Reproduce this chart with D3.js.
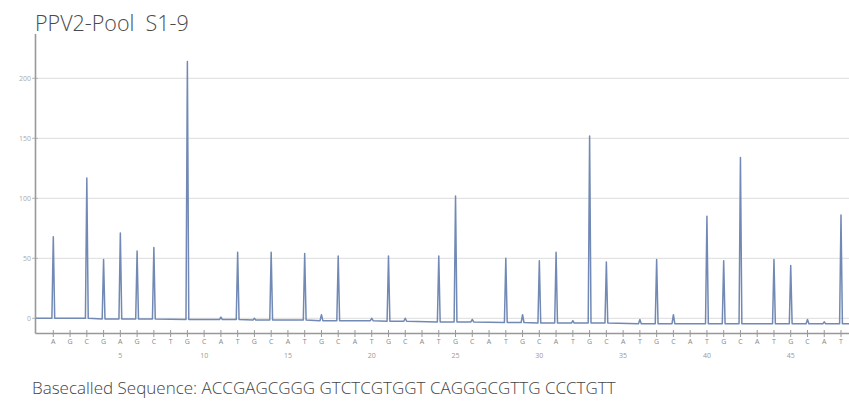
<!DOCTYPE html>
<html>
<head>
<meta charset="utf-8">
<script src="https://cdn.jsdelivr.net/npm/d3@7"></script>
<style>
  body { margin: 0; background: #fff; }
  svg { display: block; font-family: "Open Sans", sans-serif; }
</style>
</head>
<body>
<script>
const width = 849;
const height = 417;

// dispensation order and peak heights (null = no peak)
const dispensations = ["A", "G", "C", "G", "A", "G", "C", "T", "G", "C", "A", "T",
  "G", "C", "A", "T", "G", "C", "A", "T", "G", "C", "A", "T",
  "G", "C", "A", "T", "G", "C", "A", "T", "G", "C", "A", "T",
  "G", "C", "A", "T", "G", "C", "A", "T", "G", "C", "A", "T"];
const peaks = [68, null, 117, 49, 71, 56, 59, null, 214, null, 1, 55,
  0, 55, null, 54, 3, 52, null, 0, 52, 0, null, 52,
  102, -1, null, 50, 3, 48, 55, -2, 152, 47, null, -1,
  49, 3, null, 85, 48, 134, null, 49, 44, -1, -3, 86];
const baseline = [0, 0, 0, -0.5, -0.5, -0.5, -0.5, -1, -1, -1, -1, -1,
  -1.5, -1.5, -1.5, -1.5, -2, -2, -2, -2, -2.5, -2.5, -2.5, -3,
  -3, -3, -3.5, -3.5, -3.5, -4, -4, -4, -4, -4, -4, -4.5,
  -4.5, -4.5, -4.5, -4.5, -4.5, -4.5, -4.5, -4.5, -4.5, -4.5, -4.5, -4.5];
const yTicks = [0, 50, 100, 150, 200];
const xNumbers = [5, 10, 15, 20, 25, 30, 35, 40, 45];
const title = "PPV2-Pool  S1-9";
const sequence = "Basecalled Sequence: ACCGAGCGGG GTCTCGTGGT CAGGGCGTTG CCCTGTT";

const x = d3.scaleLinear().domain([1, 48]).range([53.3, 841]);
const y = d3.scaleLinear().domain([0, 200]).range([318.3, 78.3]);

const svg = d3.select("body").append("svg")
  .attr("width", width)
  .attr("height", height);

// gridlines
svg.append("g")
  .selectAll("line")
  .data(yTicks)
  .join("line")
  .attr("x1", 36)
  .attr("x2", width)
  .attr("y1", (d) => y(d))
  .attr("y2", (d) => y(d))
  .attr("stroke", "#e3e3e3")
  .attr("stroke-width", 1.2);

// y tick marks and labels
svg.append("g")
  .selectAll("line")
  .data(yTicks)
  .join("line")
  .attr("x1", 32)
  .attr("x2", 38)
  .attr("y1", (d) => y(d))
  .attr("y2", (d) => y(d))
  .attr("stroke", "#bbb");

svg.append("g")
  .selectAll("text")
  .data(yTicks)
  .join("text")
  .attr("x", 31)
  .attr("y", (d) => y(d) + 2.5)
  .attr("text-anchor", "end")
  .attr("font-size", 7)
  .attr("fill", "#aaa")
  .text((d) => d);

// trace: baseline with narrow spikes where there is signal
const pts = [[36, y(0)]];
peaks.forEach((p, i) => {
  const cx = x(i + 1);
  const b = baseline[i];
  if (p === null) return;
  pts.push([cx - 1.4, y(b)]);
  pts.push([cx, y(p)]);
  pts.push([cx + 1.4, y(b)]);
});
pts.push([width, y(baseline[baseline.length - 1])]);

svg.append("path")
  .attr("d", d3.line()(pts))
  .attr("fill", "none")
  .attr("stroke", "#7189b4")
  .attr("stroke-width", 1.5)
  .attr("stroke-linejoin", "round");

// axes
svg.append("line")
  .attr("x1", 35.5).attr("x2", 35.5)
  .attr("y1", 34).attr("y2", 333.5)
  .attr("stroke", "#999")
  .attr("stroke-width", 1.6);
svg.append("line")
  .attr("x1", 35.5).attr("x2", width)
  .attr("y1", 333.5).attr("y2", 333.5)
  .attr("stroke", "#999")
  .attr("stroke-width", 1.6);

// dispensation ticks and letters
svg.append("g")
  .selectAll("line")
  .data(dispensations)
  .join("line")
  .attr("x1", (d, i) => x(i + 1))
  .attr("x2", (d, i) => x(i + 1))
  .attr("y1", 330)
  .attr("y2", 337)
  .attr("stroke", "#999");

svg.append("g")
  .selectAll("text")
  .data(dispensations)
  .join("text")
  .attr("x", (d, i) => x(i + 1))
  .attr("y", 343.5)
  .attr("text-anchor", "middle")
  .attr("font-size", 7)
  .attr("fill", "#888")
  .text((d) => d);

svg.append("g")
  .selectAll("text")
  .data(xNumbers)
  .join("text")
  .attr("x", (d) => x(d))
  .attr("y", 358)
  .attr("text-anchor", "middle")
  .attr("font-size", 7)
  .attr("fill", "#999")
  .text((d) => d);

// title and sequence
svg.append("text")
  .attr("x", 35)
  .attr("y", 31)
  .attr("font-size", 21.5)
  .attr("font-weight", 300)
  .attr("fill", "#4a4a4a")
  .attr("xml:space", "preserve")
  .text(title);

svg.append("text")
  .attr("x", 32)
  .attr("y", 394)
  .attr("font-size", 17)
  .attr("font-weight", 300)
  .attr("fill", "#444")
  .text(sequence);
</script>
</body>
</html>
